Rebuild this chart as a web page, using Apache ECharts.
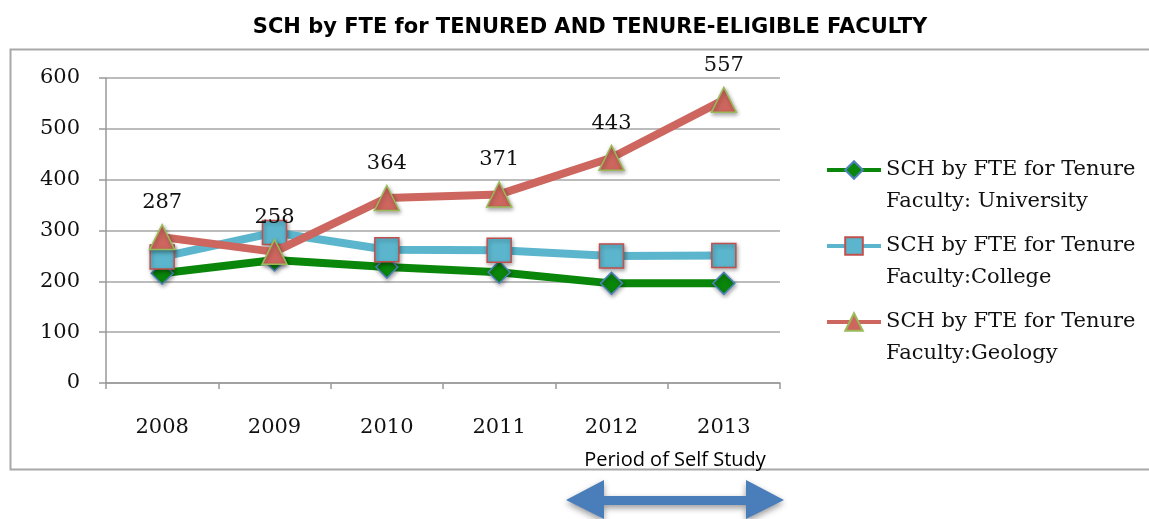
<!DOCTYPE html>
<html>
<head>
<meta charset="utf-8">
<script src="https://cdn.jsdelivr.net/npm/echarts@6/dist/echarts.min.js"></script>
<style>
html,body{margin:0;padding:0;background:#fff;}
#chart{width:1149px;height:519px;}
</style>
</head>
<body>
<div id="chart"></div>
<script>
var years = ['2008','2009','2010','2011','2012','2013'];
var university = [216, 242, 228, 218, 196, 196];
var college = [248, 296, 262, 261, 250, 251];
var geology = [287, 258, 364, 371, 443, 557];
var yTicks = [0, 100, 200, 300, 400, 500, 600];
var names = ['SCH by FTE for Tenure\nFaculty: University', 'SCH by FTE for Tenure\nFaculty:College', 'SCH by FTE for Tenure\nFaculty:Geology'];

var serif = '"DejaVu Serif", serif';
var chart = echarts.init(document.getElementById('chart'));

function markerShadow(){
    return {shadowBlur: 4, shadowColor: 'rgba(0,0,0,0.35)', shadowOffsetX: 1, shadowOffsetY: 2};
}

var option = {
    animation: false,
    title: {
        text: 'SCH by FTE for TENURED AND TENURE-ELIGIBLE FACULTY',
        left: 585, top: 12, textAlign: 'center',
        textStyle: {fontFamily: '"DejaVu Sans", sans-serif', fontWeight: 'bold', fontSize: 21, color: '#000'}
    },
    grid: {left: 106, right: 369, top: 78, bottom: 136},
    legend: {
        orient: 'vertical',
        left: 820, top: 117,
        itemWidth: 54, itemHeight: 22, itemGap: -20,
        data: names,
        // blank first line keeps the icon level with the first text line
        formatter: function(n){ return ' \n' + n; },
        lineStyle: {width: 4},
        textStyle: {fontFamily: serif, fontSize: 21, color: '#111', lineHeight: 32}
    },
    xAxis: {
        type: 'category',
        data: years,
        axisLine: {lineStyle: {color: '#999', width: 1.5}},
        axisTick: {show: true, length: 6, lineStyle: {color: '#999', width: 1.5}},
        axisLabel: {fontFamily: serif, fontSize: 21, color: '#111', margin: 34}
    },
    yAxis: {
        type: 'value',
        min: yTicks[0], max: yTicks[yTicks.length - 1], interval: 100,
        axisLine: {show: true, lineStyle: {color: '#999', width: 1.5}},
        axisTick: {show: true, length: 7, lineStyle: {color: '#999', width: 1.5}},
        splitLine: {lineStyle: {color: '#a6a6a6', width: 1.5}},
        axisLabel: {fontFamily: serif, fontSize: 21, color: '#111', margin: 26}
    },
    series: [
        {
            name: names[0], type: 'line', data: university,
            symbol: 'diamond', symbolSize: 22,
            lineStyle: {color: '#0a870a', width: 8},
            itemStyle: Object.assign({color: '#0a870a', borderColor: '#4f81bd', borderWidth: 1.5}, markerShadow()),
            z: 2
        },
        {
            name: names[1], type: 'line', data: college,
            symbol: 'rect', symbolSize: 24,
            lineStyle: {color: '#5bb6cd', width: 8},
            itemStyle: Object.assign({color: '#5bb6cd', borderColor: '#c0504d', borderWidth: 1.5}, markerShadow()),
            z: 3
        },
        {
            name: names[2], type: 'line', data: geology,
            symbol: 'triangle', symbolSize: 25,
            lineStyle: {color: '#cd665e', width: 8},
            itemStyle: Object.assign({color: '#cd665e', borderColor: '#9bbb59', borderWidth: 1.5}, markerShadow()),
            label: {show: true, position: 'top', distance: 11, fontFamily: serif, fontSize: 21, color: '#111'},
            z: 4
        }
    ],
    graphic: [
        {
            type: 'rect', left: 8, top: 47, z: -10,
            shape: {width: 1160, height: 420},
            style: {fill: 'none', stroke: '#a8a8a8', lineWidth: 2}
        },
        {
            type: 'text', x: 675, y: 460,
            style: {text: 'Period of Self Study', align: 'center', verticalAlign: 'middle', fontFamily: '"Open Sans", sans-serif', fontSize: 20, fill: '#000'}
        },
        {
            type: 'polygon',
            shape: {points: [[566, 500], [604, 480], [604, 496], [746, 496], [746, 480], [784, 500], [746, 519], [746, 505], [604, 505], [604, 519]]},
            style: {fill: '#4a7ebb', shadowBlur: 6, shadowColor: 'rgba(0,0,0,0.4)', shadowOffsetY: 3}
        }
    ]
};
chart.setOption(option);
</script>
</body>
</html>
